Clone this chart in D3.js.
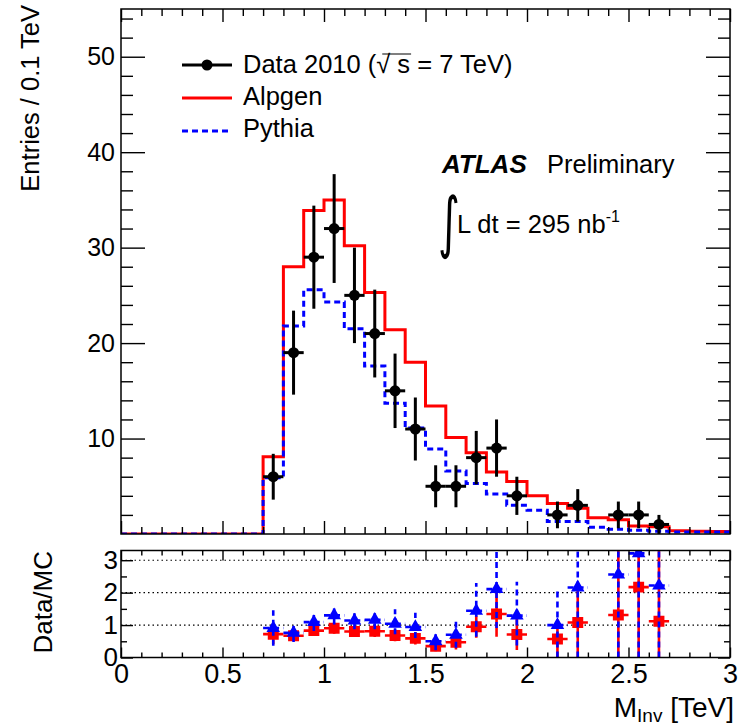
<!DOCTYPE html>
<html>
<head>
<meta charset="utf-8">
<script src="https://cdn.jsdelivr.net/npm/d3@7"></script>
<style>
  html, body { margin: 0; padding: 0; background: #fff; }
  svg { display: block; }
</style>
</head>
<body>
<svg id="chart" width="739" height="728"></svg>
<script>
///// 1. DATA
// low edges of the 0.1 TeV bins
const binLow = [0.0, 0.1, 0.2, 0.3, 0.4, 0.5, 0.6, 0.7, 0.8, 0.9,
                1.0, 1.1, 1.2, 1.3, 1.4, 1.5, 1.6, 1.7, 1.8, 1.9,
                2.0, 2.1, 2.2, 2.3, 2.4, 2.5, 2.6, 2.7, 2.8, 2.9];
const binHigh = 3.0;

const alpgen = [0, 0, 0, 0, 0, 0, 0, 8.1, 28.0, 33.9,
                35.0, 30.2, 25.3, 21.4, 18.0, 13.4, 10.1, 8.5, 6.5, 5.5,
                4.0, 3.2, 2.7, 1.7, 1.5, 0.85, 0.75, 0.35, 0.3, 0.25];
const pythia = [0, 0, 0, 0, 0, 0, 0, 5.9, 21.8, 25.6,
                24.3, 21.5, 17.6, 13.7, 11.1, 8.9, 6.6, 5.3, 4.2, 3.0,
                2.5, 1.3, 1.3, 0.7, 0.5, 0.4, 0.3, 0.2, 0.2, 0.2];

// data points (bin centres)
const dataX   = [0.75, 0.85, 0.95, 1.05, 1.15, 1.25, 1.35, 1.45, 1.55,
                 1.65, 1.75, 1.85, 1.95, 2.15, 2.25, 2.45, 2.55, 2.65];
const dataY   = [6, 19, 29, 32, 25, 21, 15, 11, 5, 5, 8, 9, 4, 2, 3, 2, 2, 1];
const dataErr = [2.4, 4.4, 5.4, 5.7, 5.0, 4.6, 3.9, 3.3, 2.2, 2.2, 2.8, 3.0, 2.0, 1.4, 1.7, 1.4, 1.4, 1.0];

// ratio panel, Data / Alpgen (squares) and Data / Pythia (triangles)
const ratioAlp   = [0.72, 0.67, 0.83, 0.90, 0.80, 0.81, 0.68, 0.59, 0.35,
                    0.47, 0.95, 1.34, 0.71, 0.57, 1.08, 1.31, 2.17, 1.12];
const ratioAlpLo = [0.31, 0.16, 0.16, 0.17, 0.17, 0.18, 0.18, 0.19, 0.16,
                    0.22, 0.34, 0.70, 0.48, 0.57, 1.08, 1.31, 2.17, 1.12];
const ratioAlpHi = [0.31, 0.16, 0.16, 0.17, 0.17, 0.18, 0.18, 0.19, 0.16,
                    0.22, 0.34, 0.70, 0.48, 0.60, 1.20, 2.00, 1.20, 2.20];
const ratioPyt   = [0.91, 0.76, 1.09, 1.30, 1.14, 1.16, 1.04, 0.94, 0.50,
                    0.70, 1.44, 2.11, 1.29, 1.00, 2.16, 2.56, 3.21, 2.22];
const ratioPytLo = [0.55, 0.28, 0.27, 0.28, 0.27, 0.29, 0.32, 0.34, 0.28,
                    0.40, 0.80, 1.20, 0.92, 1.00, 2.16, 2.56, 3.21, 2.22];
const ratioPytHi = [0.55, 0.28, 0.27, 0.28, 0.27, 0.29, 0.45, 0.44, 0.29,
                    0.47, 0.86, 1.30, 1.05, 1.08, 1.50, 1.50, 1.50, 1.50];

const xTickLabels  = [0, 0.5, 1, 1.5, 2, 2.5, 3];
const yTicksMain   = [10, 20, 30, 40, 50];
const yTicksRatio  = [0, 1, 2, 3];
const ratioGrid    = [1, 2, 3];

///// 2. LAYOUT
const FONT = '"Liberation Sans", Arial, Helvetica, sans-serif';
const RED = '#ff0000', BLUE = '#0000ff';
const X0 = 121, X1 = 730;
const svg = d3.select('#chart').attr('font-family', FONT);

const x      = d3.scaleLinear([0, 3], [X0, X1]);
const yMain  = d3.scaleLinear([0, 55], [534, 9]);
const yRatio = d3.scaleLinear([0, 3.3], [657.5, 550.5]);

const xMinor = d3.range(0, 31).filter(i => i % 5).map(i => i / 10);
const yMinorMain  = d3.range(2, 55, 2).filter(v => v % 10);
const yMinorRatio = [0.5, 1.5, 2.5];

function axis (fn, scale, vals, size, tr, fmt, pad, fs) {
  const a = fn(scale).tickValues(vals).tickSizeInner(-size).tickSizeOuter(0)
                     .tickPadding(pad || 0).tickFormat(fmt || (() => ''));
  const g = svg.append('g').attr('transform', tr).call(a)
               .attr('font-family', FONT).attr('font-size', fs || 10);
  g.select('.domain').remove();
  g.selectAll('line').attr('stroke', '#000').attr('stroke-width', 1.4);
  g.selectAll('text').attr('fill', '#000');
  return g;
}

///// 3. MAIN PANEL
svg.append('clipPath').attr('id', 'clipM')
  .append('rect').attr('x', X0).attr('y', 9).attr('width', X1 - X0).attr('height', 525);

const step = d3.line().curve(d3.curveStepAfter)
  .x(d => x(d[0])).y(d => yMain(d[1]));
const histPts = vals => binLow.map((b, i) => [b, vals[i]]).concat([[binHigh, vals[vals.length - 1]]]);

const gm = svg.append('g').attr('clip-path', 'url(#clipM)');
gm.append('path').attr('d', step(histPts(alpgen)))
  .attr('fill', 'none').attr('stroke', RED).attr('stroke-width', 3);
gm.append('path').attr('d', step(histPts(pythia)))
  .attr('fill', 'none').attr('stroke', BLUE).attr('stroke-width', 3)
  .attr('stroke-dasharray', '6,4');

const pts = dataX.map((d, i) => ({ x: d, y: dataY[i], e: dataErr[i] }));
const gd = gm.append('g');
gd.selectAll('line.v').data(pts).join('line')
  .attr('x1', d => x(d.x)).attr('x2', d => x(d.x))
  .attr('y1', d => yMain(d.y - d.e)).attr('y2', d => yMain(d.y + d.e))
  .attr('stroke', '#000').attr('stroke-width', 3);
gd.selectAll('line.h').data(pts).join('line')
  .attr('x1', d => x(d.x - 0.05)).attr('x2', d => x(d.x + 0.05))
  .attr('y1', d => yMain(d.y)).attr('y2', d => yMain(d.y))
  .attr('stroke', '#000').attr('stroke-width', 3);
gd.selectAll('circle').data(pts).join('circle')
  .attr('cx', d => x(d.x)).attr('cy', d => yMain(d.y)).attr('r', 5.5)
  .attr('fill', '#000');

// axes of main panel
axis(d3.axisLeft,   yMain, yTicksMain, 24, `translate(${X0},0)`, d3.format('d'), 6, 25);
axis(d3.axisLeft,   yMain, yMinorMain, 12, `translate(${X0},0)`);
axis(d3.axisRight,  yMain, yTicksMain, 24, `translate(${X1},0)`);
axis(d3.axisRight,  yMain, yMinorMain, 12, `translate(${X1},0)`);
axis(d3.axisBottom, x, xTickLabels, 13, 'translate(0,534)');
axis(d3.axisBottom, x, xMinor, 7, 'translate(0,534)');
axis(d3.axisTop,    x, xTickLabels, 13, 'translate(0,9)');
axis(d3.axisTop,    x, xMinor, 7, 'translate(0,9)');

svg.append('rect').attr('x', X0).attr('y', 9).attr('width', X1 - X0).attr('height', 525)
  .attr('fill', 'none').attr('stroke', '#000').attr('stroke-width', 1.5);

// legend
const leg = svg.append('g').attr('font-size', 25.5);
leg.append('line').attr('x1', 182).attr('x2', 232).attr('y1', 65).attr('y2', 65)
   .attr('stroke', '#000').attr('stroke-width', 3);
leg.append('circle').attr('cx', 207).attr('cy', 65).attr('r', 5.5).attr('fill', '#000');
const t1 = leg.append('text').attr('x', 243).attr('y', 73).text('Data 2010 (\u221A s = 7 TeV)');
leg.append('line').attr('x1', 182).attr('x2', 232).attr('y1', 98).attr('y2', 98)
   .attr('stroke', RED).attr('stroke-width', 3);
leg.append('text').attr('x', 243).attr('y', 105).text('Alpgen');
leg.append('line').attr('x1', 182).attr('x2', 232).attr('y1', 131).attr('y2', 131)
   .attr('stroke', BLUE).attr('stroke-width', 3).attr('stroke-dasharray', '6,4');
leg.append('text').attr('x', 243).attr('y', 137).text('Pythia');

// overline of the square root, over the "s"
(function () {
  const node = t1.node();
  const idx = node.textContent.indexOf('\u221A');
  const a = node.getStartPositionOfChar(idx).x;
  const b = node.getEndPositionOfChar(idx + 2).x;
  leg.append('line').attr('x1', a + 6).attr('x2', b + 1).attr('y1', 54).attr('y2', 54)
     .attr('stroke', '#000').attr('stroke-width', 1);
})();

// ATLAS label
const lab = svg.append('text').attr('x', 442).attr('y', 173).attr('font-size', 26);
lab.append('tspan').attr('font-weight', 'bold').attr('font-style', 'italic').text('ATLAS');
lab.append('tspan').attr('x', 547).attr('font-size', 25.5).text('Preliminary');

svg.append('text').attr('transform', 'translate(438,245) scale(0.75,1.2)')
   .attr('font-size', 56).attr('font-family', '"DejaVu Sans", sans-serif').text('\u222B');
const lumi = svg.append('text').attr('x', 457).attr('y', 233).attr('font-size', 25.5);
lumi.append('tspan').text('L dt = 295 nb');
lumi.append('tspan').attr('font-size', 16).attr('dy', -11).text('-1');

svg.append('text').attr('transform', 'translate(39,5) rotate(-90)')
   .attr('text-anchor', 'end').attr('font-size', 25.5).text('Entries / 0.1 TeV');

///// 4. RATIO PANEL
svg.append('clipPath').attr('id', 'clipR')
  .append('rect').attr('x', X0).attr('y', 550.5).attr('width', X1 - X0).attr('height', 107);

const gr = svg.append('g').attr('clip-path', 'url(#clipR)');
gr.selectAll('line.grid').data(ratioGrid).join('line')
  .attr('x1', X0).attr('x2', X1).attr('y1', d => yRatio(d)).attr('y2', d => yRatio(d))
  .attr('stroke', '#000').attr('stroke-width', 1.2).attr('stroke-dasharray', '1.5,3');

const rA = dataX.map((d, i) => ({ x: d, y: ratioAlp[i], lo: ratioAlpLo[i], hi: ratioAlpHi[i] }));
const rP = dataX.map((d, i) => ({ x: d, y: ratioPyt[i], lo: ratioPytLo[i], hi: ratioPytHi[i] }));

function ratioBars (g, rows, color, dash) {
  g.append('g').selectAll('line').data(rows).join('line')
    .attr('x1', d => x(d.x)).attr('x2', d => x(d.x))
    .attr('y1', d => yRatio(d.y - d.lo)).attr('y2', d => yRatio(d.y + d.hi))
    .attr('stroke', color).attr('stroke-width', 2.6).attr('stroke-dasharray', dash);
  g.append('g').selectAll('line').data(rows).join('line')
    .attr('x1', d => x(d.x - 0.05)).attr('x2', d => x(d.x + 0.05))
    .attr('y1', d => yRatio(d.y)).attr('y2', d => yRatio(d.y))
    .attr('stroke', color).attr('stroke-width', 2.6).attr('stroke-dasharray', dash);
}
ratioBars(gr, rA, RED, null);
gr.append('g').selectAll('path').data(rA).join('path')
  .attr('d', d3.symbol(d3.symbolSquare, 120))
  .attr('transform', d => `translate(${x(d.x)},${yRatio(d.y)})`)
  .attr('fill', RED);
ratioBars(gr, rP, BLUE, '6,4');
gr.append('g').selectAll('path').data(rP).join('path')
  .attr('d', d3.symbol(d3.symbolTriangle, 80))
  .attr('transform', d => `translate(${x(d.x)},${yRatio(d.y)})`)
  .attr('fill', BLUE);

axis(d3.axisLeft,   yRatio, yTicksRatio, 12, `translate(${X0},0)`, d3.format('d'), 3, 26);
axis(d3.axisLeft,   yRatio, yMinorRatio, 6, `translate(${X0},0)`);
axis(d3.axisRight,  yRatio, yTicksRatio, 12, `translate(${X1},0)`);
axis(d3.axisRight,  yRatio, yMinorRatio, 6, `translate(${X1},0)`);
axis(d3.axisBottom, x, xTickLabels, 10, 'translate(0,657.5)', d3.format('~g'), 6, 27);
axis(d3.axisBottom, x, xMinor, 5, 'translate(0,657.5)');
axis(d3.axisTop,    x, xTickLabels, 10, 'translate(0,550.5)');
axis(d3.axisTop,    x, xMinor, 5, 'translate(0,550.5)');

svg.append('rect').attr('x', X0).attr('y', 550.5).attr('width', X1 - X0).attr('height', 107)
  .attr('fill', 'none').attr('stroke', '#000').attr('stroke-width', 1.5);

svg.append('text').attr('transform', 'translate(52,551) rotate(-90)')
   .attr('text-anchor', 'end').attr('font-size', 26).text('Data/MC');

const xt = svg.append('text').attr('x', 734).attr('y', 717)
   .attr('text-anchor', 'end').attr('font-size', 28);
xt.append('tspan').text('M');
xt.append('tspan').attr('font-size', 19).attr('dy', 5).text('Inv');
xt.append('tspan').attr('dy', -5).text(' [TeV]');
</script>
</body>
</html>
